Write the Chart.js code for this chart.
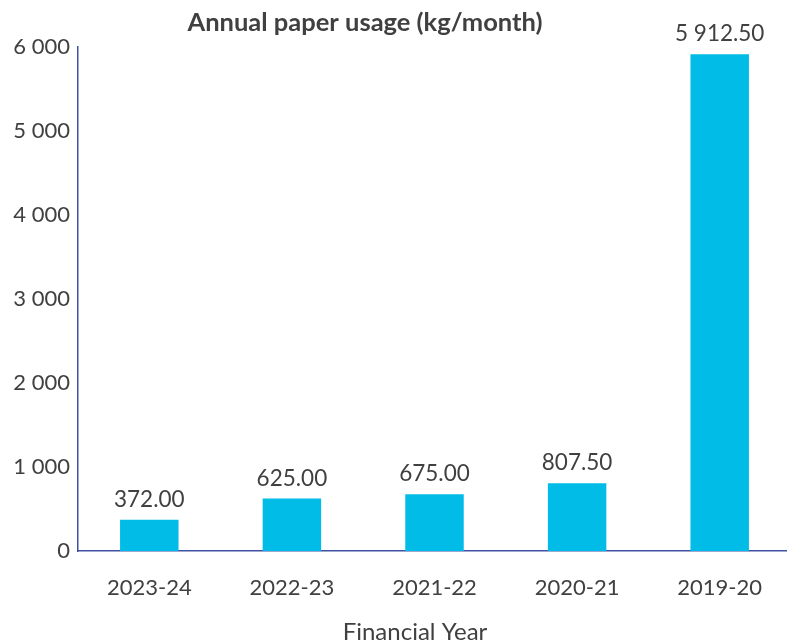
<!DOCTYPE html>
<html>
<head>
<meta charset="utf-8">
<script src="https://cdn.jsdelivr.net/npm/chart.js@4"></script>
<style>
  html, body { margin: 0; padding: 0; background: #fff; overflow: hidden; }
  #wrap { width: 791px; height: 644px; }
</style>
</head>
<body>
<div id="wrap"><canvas id="grafico"></canvas></div>
<script>
// ===== DATA =====
const years = ["2023-24", "2022-23", "2021-22", "2020-21", "2019-20"];
const paperKg = [372.00, 625.00, 675.00, 807.50, 5912.50];
const yTicks = [0, 1000, 2000, 3000, 4000, 5000, 6000];

const chartTitle = "Annual paper usage (kg/month)";
const xTitle = "Financial Year";

const textGrey = "#404040";
const axisBlue = "#3f51a0";
const barBlue = "#00bce6";

// "6000" -> "6 000"
function spaced(n, digits) {
    const parts = n.toFixed(digits).split(".");
    parts[0] = parts[0].replace(/\B(?=(\d{3})+(?!\d))/g, " ");
    return parts.join(".");
}

// labels above bars + titles (placed like the original, a bit left of centre)
const extraText = {
    id: "extraText",
    afterDatasetsDraw(chart) {
        const ctx = chart.ctx;
        const meta = chart.getDatasetMeta(0);
        ctx.save();
        ctx.fillStyle = textGrey;
        ctx.textAlign = "center";

        ctx.font = "22.5px Lato";
        ctx.textBaseline = "bottom";
        meta.data.forEach((bar, i) => {
            ctx.fillText(spaced(paperKg[i], 2), bar.x, bar.y - 9);
        });

        ctx.textBaseline = "middle";
        ctx.font = "bold 25.5px Lato";
        ctx.fillText(chartTitle, 365, 23);

        ctx.font = "24px Lato";
        ctx.fillText(xTitle, 415, 632);
        ctx.restore();
    }
};

document.addEventListener("DOMContentLoaded", () => {
    const canvas = document.getElementById("grafico");

    new Chart(canvas, {
        type: "bar",
        data: {
            labels: years,
            datasets: [{
                data: paperKg,
                backgroundColor: barBlue,
                barPercentage: 0.41,
                categoryPercentage: 1
            }]
        },
        options: {
            responsive: true,
            maintainAspectRatio: false,
            animation: false,
            layout: { padding: { left: 0, right: 0, top: 47, bottom: 0 } },
            plugins: {
                legend: { display: false },
                tooltip: { enabled: false },
                title: { display: false }
            },
            scales: {
                x: {
                    afterFit(scale) { scale.height = 93; },
                    grid: { display: false, drawTicks: false },
                    border: { display: true, color: axisBlue, width: 1.5 },
                    ticks: {
                        color: textGrey,
                        font: { family: "Lato", size: 22 },
                        padding: 24
                    }
                },
                y: {
                    min: 0,
                    max: 6000,
                    afterFit(scale) { scale.width = 78; },
                    afterBuildTicks(scale) {
                        scale.ticks = yTicks.map(v => ({ value: v }));
                    },
                    grid: { display: false, drawTicks: false },
                    border: { display: true, color: axisBlue, width: 1.5 },
                    ticks: {
                        color: textGrey,
                        font: { family: "Lato", size: 22 },
                        padding: 8,
                        callback: v => spaced(v, 0)
                    }
                }
            }
        },
        plugins: [extraText]
    });
});
</script>
</body>
</html>
